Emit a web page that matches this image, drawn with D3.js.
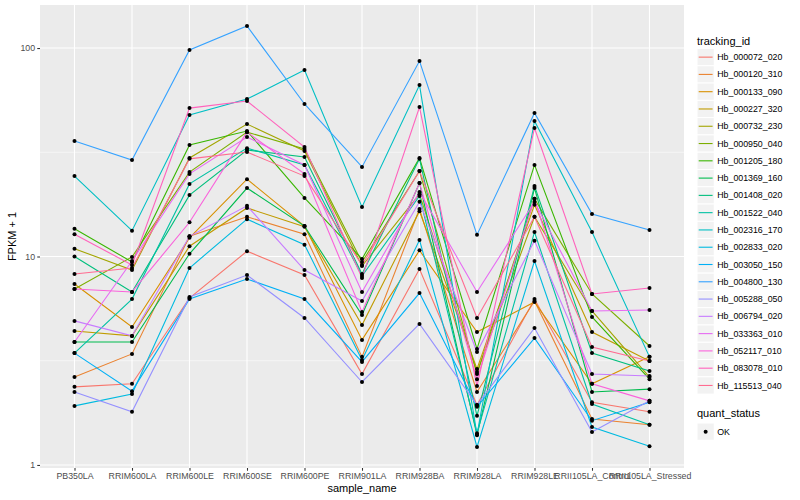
<!DOCTYPE html>
<html>
<head>
<meta charset="utf-8">
<script src="https://cdn.jsdelivr.net/npm/d3@7"></script>
<style>
body { margin: 0; background: #fff; }
text { font-family: "Liberation Sans", Arial, sans-serif; }
</style>
</head>
<body>
<script>
// sample columns along x
var samples = ["PB350LA", "RRIM600LA", "RRIM600LE", "RRIM600SE", "RRIM600PE", "RRIM901LA",
  "RRIM928BA", "RRIM928LA", "RRIM928LE", "RRII105LA_Control", "RRII105LA_Stressed"];

var yTicks = [1, 10, 100];
var statusLevels = ["OK"];

// FPKM + 1 per tracking id, in sample order
var hb_000072_020 = [2.37, 2.45, 6.32, 10.6, 8.15, 2.73, 8.71, 1.94, 6.25, 2.00, 1.80];
var hb_000120_310 = [2.64, 3.41, 12.5, 15.5, 12.8, 3.30, 16.9, 2.24, 6.12, 1.66, 1.56];
var hb_000133_090 = [7.38, 4.59, 12.3, 23.5, 14.0, 3.98, 10.7, 4.34, 6.05, 2.45, 3.30];
var hb_000227_320 = [4.39, 4.16, 11.2, 17.1, 13.9, 4.69, 16.5, 2.89, 17.7, 4.34, 3.15];
var hb_000732_230 = [10.9, 8.61, 29.7, 43.2, 32.1, 9.00, 19.9, 2.79, 15.5, 5.48, 2.64];
var hb_000950_040 = [6.98, 9.95, 25.4, 39.5, 32.8, 9.41, 25.7, 2.73, 18.9, 6.61, 3.72];
var hb_001205_180 = [13.6, 9.41, 34.3, 40.0, 19.1, 9.73, 29.7, 3.60, 27.5, 5.13, 2.58];
var hb_001369_160 = [3.89, 3.89, 10.3, 21.3, 14.0, 5.24, 22.5, 1.39, 21.3, 2.24, 2.31];
var hb_001408_020 = [10.0, 6.76, 19.7, 32.4, 30.0, 8.24, 29.4, 1.72, 21.8, 3.44, 2.82];
var hb_001522_040 = [3.44, 6.25, 22.3, 33.1, 27.5, 8.06, 19.5, 1.42, 13.1, 1.96, 1.56];
var hb_002316_170 = [24.3, 13.3, 47.7, 56.9, 78.4, 17.3, 66.4, 1.40, 44.7, 13.1, 3.30];
var hb_002833_020 = [1.92, 2.19, 8.81, 15.1, 11.4, 3.19, 12.0, 1.22, 9.51, 1.52, 1.23];
var hb_003050_150 = [3.44, 2.26, 6.25, 7.80, 6.25, 3.12, 6.68, 1.90, 4.06, 1.63, 2.00];
var hb_004800_130 = [35.8, 29.0, 97.8, 127.5, 53.9, 26.9, 86.6, 12.7, 48.8, 16.0, 13.4];
var hb_005288_050 = [2.24, 1.80, 6.39, 8.15, 5.07, 2.50, 4.75, 1.94, 4.54, 1.44, 2.03];
var hb_006794_020 = [4.91, 4.16, 12.5, 17.5, 8.61, 6.12, 18.3, 3.48, 11.9, 2.73, 2.67];
var hb_033363_010 = [3.89, 9.51, 24.9, 37.4, 27.5, 6.76, 20.4, 6.76, 18.3, 5.48, 5.54];
var hb_052117_010 = [6.98, 6.76, 14.6, 39.5, 24.9, 5.42, 22.5, 2.58, 18.9, 2.45, 2.03];
var hb_083078_010 = [12.8, 9.10, 51.5, 55.7, 33.5, 7.88, 52.1, 2.39, 41.3, 6.61, 7.06];
var hb_115513_040 = [8.24, 8.81, 29.4, 31.7, 24.3, 9.10, 25.7, 5.07, 15.5, 3.68, 3.15];

var trackingIds = ["Hb_000072_020", "Hb_000120_310", "Hb_000133_090", "Hb_000227_320", "Hb_000732_230",
  "Hb_000950_040", "Hb_001205_180", "Hb_001369_160", "Hb_001408_020", "Hb_001522_040",
  "Hb_002316_170", "Hb_002833_020", "Hb_003050_150", "Hb_004800_130", "Hb_005288_050",
  "Hb_006794_020", "Hb_033363_010", "Hb_052117_010", "Hb_083078_010", "Hb_115513_040"];

var colours = ["#F8766D", "#EA8331", "#D89000", "#C09B00", "#A3A500", "#7CAE00", "#39B600",
  "#00BB4E", "#00BF7D", "#00C1A3", "#00BFC4", "#00BAE0", "#00B0F6", "#35A2FF", "#9590FF",
  "#C77CFF", "#E76BF3", "#FA62DB", "#FF62BC", "#FF6C91"];

var seriesValues = [hb_000072_020, hb_000120_310, hb_000133_090, hb_000227_320, hb_000732_230,
  hb_000950_040, hb_001205_180, hb_001369_160, hb_001408_020, hb_001522_040,
  hb_002316_170, hb_002833_020, hb_003050_150, hb_004800_130, hb_005288_050,
  hb_006794_020, hb_033363_010, hb_052117_010, hb_083078_010, hb_115513_040];

var series = trackingIds.map(function(id, i) {
  return { id: id, colour: colours[i], values: seriesValues[i] };
});

var w = 800, h = 500;
var panel = { left: 40, right: 684, top: 5, bottom: 468 };

var svg = d3.select("body").append("svg")
  .attr("width", w)
  .attr("height", h);

var x = d3.scalePoint()
  .domain(samples)
  .range([panel.left, panel.right])
  .padding(0.6);

// log scale with ggplot-like 5% expansion in log space
var all = d3.merge(seriesValues);
var lo = Math.log10(d3.min(all)), hi = Math.log10(d3.max(all));
var pad = (hi - lo) * 0.05;
var y = d3.scaleLog()
  .domain([Math.pow(10, lo - pad), Math.pow(10, hi + pad)])
  .range([panel.bottom, panel.top]);

// panel background
svg.append("rect")
  .attr("x", panel.left)
  .attr("y", panel.top)
  .attr("width", panel.right - panel.left)
  .attr("height", panel.bottom - panel.top)
  .attr("fill", "#EBEBEB");

// minor grid (midpoints in log space)
var minor = [Math.sqrt(10), Math.sqrt(1000)];
svg.selectAll(".minor")
  .data(minor)
  .enter().append("line")
  .attr("x1", panel.left).attr("x2", panel.right)
  .attr("y1", function(d) { return y(d); })
  .attr("y2", function(d) { return y(d); })
  .attr("stroke", "#fff")
  .attr("stroke-width", 0.55);

svg.selectAll(".hgrid")
  .data(yTicks)
  .enter().append("line")
  .attr("x1", panel.left).attr("x2", panel.right)
  .attr("y1", function(d) { return y(d); })
  .attr("y2", function(d) { return y(d); })
  .attr("stroke", "#fff")
  .attr("stroke-width", 1.1);

svg.selectAll(".vgrid")
  .data(samples)
  .enter().append("line")
  .attr("x1", function(d) { return x(d); })
  .attr("x2", function(d) { return x(d); })
  .attr("y1", panel.top).attr("y2", panel.bottom)
  .attr("stroke", "#fff")
  .attr("stroke-width", 1.1);

// lines
var line = d3.line()
  .x(function(d, i) { return x(samples[i]); })
  .y(function(d) { return y(d); });

svg.selectAll(".series")
  .data(series)
  .enter().append("path")
  .attr("class", "series")
  .attr("d", function(d) { return line(d.values); })
  .attr("fill", "none")
  .attr("stroke", function(d) { return d.colour; })
  .attr("stroke-width", 1.1);

// points
var pts = [];
series.forEach(function(s) {
  s.values.forEach(function(v, i) { pts.push({ sample: samples[i], value: v }); });
});
svg.selectAll(".pt")
  .data(pts)
  .enter().append("circle")
  .attr("cx", function(d) { return x(d.sample); })
  .attr("cy", function(d) { return y(d.value); })
  .attr("r", 2)
  .attr("fill", "#000");

// axes
var yAxis = d3.axisLeft(y)
  .tickValues(yTicks)
  .tickFormat(d3.format("d"))
  .tickSize(2.75)
  .tickPadding(2.2);
var gy = svg.append("g")
  .attr("transform", "translate(" + panel.left + ",0)")
  .call(yAxis);

var xAxis = d3.axisBottom(x)
  .tickSize(2.75)
  .tickPadding(2.2);
var gx = svg.append("g")
  .attr("transform", "translate(0," + panel.bottom + ")")
  .call(xAxis);

[gx, gy].forEach(function(g) {
  g.select(".domain").remove();
  g.selectAll(".tick line").attr("stroke", "#333333").attr("stroke-width", 1.07);
  g.selectAll(".tick text")
    .attr("fill", "#4D4D4D")
    .style("font-size", "8.8px")
    .style("font-family", "'Liberation Sans', Arial, sans-serif");
});

// axis titles
svg.append("text")
  .attr("x", (panel.left + panel.right) / 2)
  .attr("y", 492)
  .attr("text-anchor", "middle")
  .style("font-size", "11px")
  .text("sample_name");

svg.append("text")
  .attr("transform", "translate(16," + ((panel.top + panel.bottom) / 2) + ") rotate(-90)")
  .attr("text-anchor", "middle")
  .style("font-size", "11px")
  .text("FPKM + 1");

// legend: tracking_id
var key = 17.28;
var legX = 697, legY = 48.5;

svg.append("text")
  .attr("x", legX)
  .attr("y", 45)
  .style("font-size", "11px")
  .text("tracking_id");

var leg = svg.selectAll(".leg")
  .data(series)
  .enter().append("g")
  .attr("transform", function(d, i) { return "translate(" + legX + "," + (legY + i * key) + ")"; });

leg.append("rect")
  .attr("width", key).attr("height", key)
  .attr("fill", "#F2F2F2")
  .attr("stroke", "#fff");
leg.append("line")
  .attr("x1", 1.7).attr("x2", key - 1.7)
  .attr("y1", key / 2).attr("y2", key / 2)
  .attr("stroke", function(d) { return d.colour; })
  .attr("stroke-width", 1.1);
leg.append("text")
  .attr("x", key + 3)
  .attr("y", key / 2)
  .attr("dy", "0.35em")
  .style("font-size", "8.8px")
  .text(function(d) { return d.id; });

// legend: quant_status
svg.append("text")
  .attr("x", legX)
  .attr("y", 417)
  .style("font-size", "11px")
  .text("quant_status");

var leg2 = svg.selectAll(".leg2")
  .data(statusLevels)
  .enter().append("g")
  .attr("transform", function(d, i) { return "translate(" + legX + "," + (423 + i * key) + ")"; });
leg2.append("rect")
  .attr("width", key).attr("height", key)
  .attr("fill", "#F2F2F2")
  .attr("stroke", "#fff");
leg2.append("circle")
  .attr("cx", key / 2).attr("cy", key / 2)
  .attr("r", 2)
  .attr("fill", "#000");
leg2.append("text")
  .attr("x", key + 3)
  .attr("y", key / 2)
  .attr("dy", "0.35em")
  .style("font-size", "8.8px")
  .text(function(d) { return d; });
</script>
</body>
</html>
